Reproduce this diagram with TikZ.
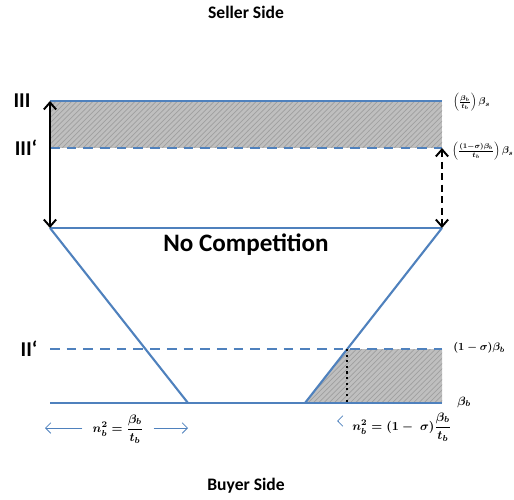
\documentclass[tikz,border=0pt]{standalone}
\usepackage{amsmath}
\usepackage{fontspec}
\setmainfont{Carlito}
\usetikzlibrary{arrows.meta,patterns,calc}
\definecolor{levelblue}{RGB}{79,129,189}
\tikzset{
  level/.style={levelblue, line width=1.2pt},
  levelcut/.style={level, dash pattern=on 5.5pt off 4pt},
  hatch/.style={preaction={fill=gray!50}, pattern=north east lines, pattern color=gray!75},
  gap/.style={black, line width=1.1pt, {Straight Barb[length=4pt,width=7pt]}-{Straight Barb[length=4pt,width=7pt]}},
  numarrow/.style={levelblue, line width=0.5pt, -{Straight Barb[length=3pt,width=6pt]}},
  side/.style={font=\bfseries\fontsize{10}{12}\selectfont},
  roman/.style={font=\bfseries\fontsize{12}{14}\selectfont},
  price/.style={font=\boldmath, anchor=west, inner sep=1pt, scale=0.57},
  qty/.style={font=\boldmath, inner sep=1pt, scale=0.7}
}
\begin{document}
\begin{tikzpicture}[x=0.02cm, y=-0.02cm]
  \useasboundingbox (0,0) rectangle (514,500);
  % levels
  \coordinate (IIIl) at (50,101);  \coordinate (IIIr) at (442,101);
  \coordinate (IIIpl) at (50,148); \coordinate (IIIpr) at (442,148);
  \coordinate (NCl) at (50,228);   \coordinate (NCr) at (442,228);
  \coordinate (IIpl) at (50,349);  \coordinate (IIpr) at (442,349);
  \coordinate (Bl) at (50,403);    \coordinate (Br) at (442,403);
  \coordinate (Tl) at (188,403);   \coordinate (Tr) at (305,403);
  \coordinate (cut) at ($(NCr)!{121/175}!(Tr)$);
  \coordinate (cutb) at (cut |- Bl);
  % shaded regions
  \fill[hatch] (IIIl) rectangle (IIIpr);
  \fill[hatch] (Tr) -- (cut) -- (IIpr) -- (Br) -- cycle;
  % lines
  \draw[level] (IIIl) -- (IIIr);
  \draw[levelcut] (IIIpl) -- (IIIpr);
  \draw[level] (NCl) -- (NCr);
  \draw[levelcut] (IIpl) -- (IIpr);
  \draw[level] (Bl) -- (Br);
  \draw[level] (NCl) -- (Tl);
  \draw[level] (NCr) -- (Tr);
  \draw[black, line width=1.2pt, dotted] (cut) -- (cutb);
  \draw[gap] (IIIl) -- (NCl);
  \draw[gap, dash pattern=on 4pt off 2.5pt] (IIIpr) -- (NCr);
  % texts
  \node[side] (seller) at (246,12) {Seller Side};
  \node[side] (buyer) at (246,486) {Buyer Side};
  \node[font=\bfseries\fontsize{14.3}{17}\selectfont] (nocomp) at (246,245) {No Competition};
  \node[roman] (III) at (22,101) {III};
  \node[roman] (IIIp) at (26,148) {III‘};
  \node[roman] (IIp) at (29,349) {II‘};
  \node[price] (pIII) at (452,102) {$\left(\frac{\beta_b}{t_b}\right)\beta_s$};
  \node[price] (pIIIp) at (451,151) {$\left(\frac{(1-\sigma)\beta_b}{t_b}\right)\beta_s$};
  \node[price, scale=1.09] (pIIp) at (452,348) {$(1-\sigma)\beta_b$};
  \node[price, scale=1.2] (pB) at (456,402) {$\beta_b$};
  % quantities
  \node[qty] (nfull) at (118,429) {$n_b^2=\dfrac{\beta_b}{t_b}$};
  \coordinate (nfullL) at (45,428);
  \coordinate (nfullR) at (188,428);
  \draw[numarrow] ([xshift=-5pt]nfull.west |- nfullL) -- (nfullL);
  \draw[numarrow] ([xshift=5pt]nfull.east |- nfullR) -- (nfullR);
  \node[qty, anchor=west] (ncut) at (351,427) {$n_b^2=(1-\;\sigma)\dfrac{\beta_b}{t_b}$};
  \coordinate (ncutL) at (337,421);
  \draw[numarrow] ($(ncutL)+(1,0)$) -- (ncutL);
\end{tikzpicture}
\end{document}
